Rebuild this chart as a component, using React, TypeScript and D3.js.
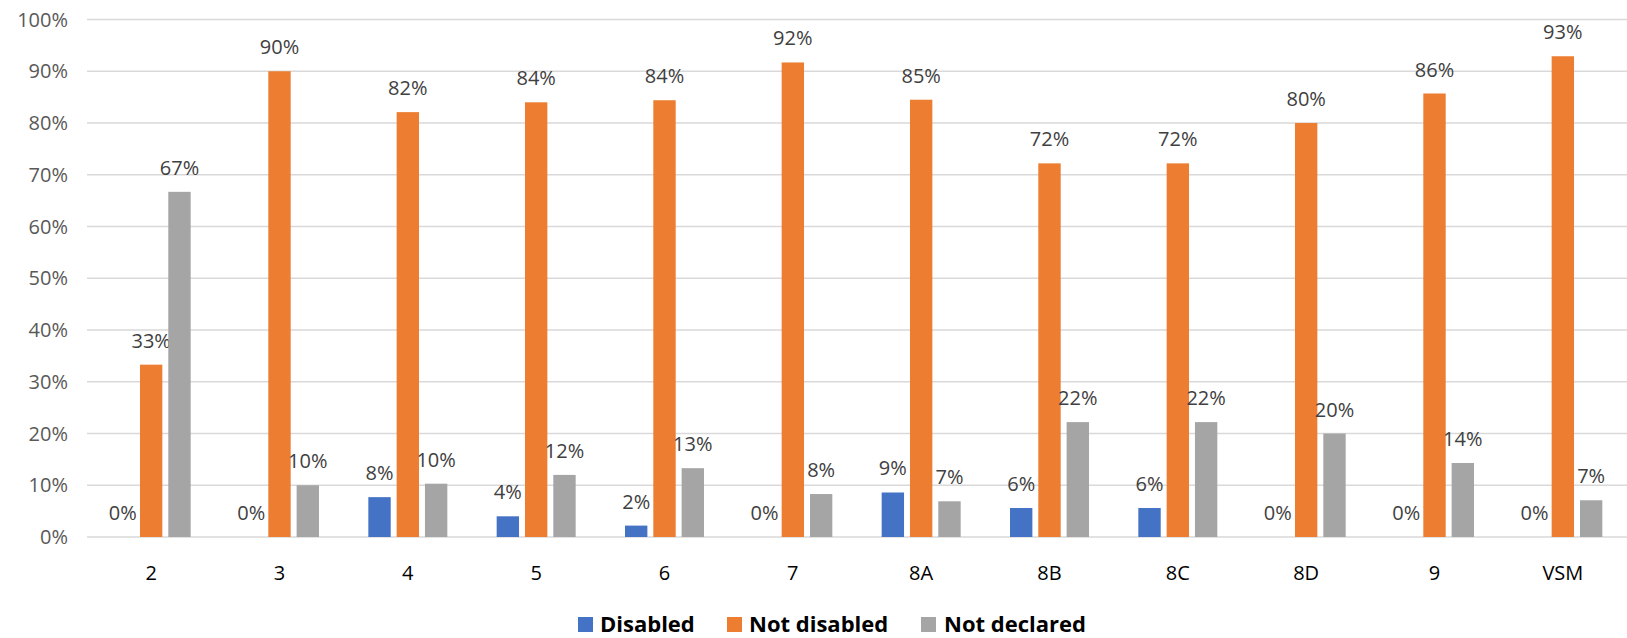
import React from "react";
import * as d3 from "d3";

const categories = ["2", "3", "4", "5", "6", "7", "8A", "8B", "8C", "8D", "9", "VSM"];
const seriesNames = ["Disabled", "Not disabled", "Not declared"];
const disabled = [0, 0, 7.7, 4.0, 2.2, 0, 8.6, 5.6, 5.6, 0, 0, 0];
const notDisabled = [33.3, 90.0, 82.1, 84.0, 84.4, 91.7, 84.5, 72.2, 72.2, 80.0, 85.7, 92.9];
const notDeclared = [66.7, 10.0, 10.3, 12.0, 13.3, 8.3, 6.9, 22.2, 22.2, 20.0, 14.3, 7.1];
const yTicks = [0, 10, 20, 30, 40, 50, 60, 70, 80, 90, 100];
const colors = ["#4472C4", "#ED7D31", "#A5A5A5"];

const W = 1627;
const H = 638;
const FONT = "'Open Sans', 'Noto Sans', sans-serif";

export default function App() {
  const series = [disabled, notDisabled, notDeclared];
  const x = d3.scaleBand<string>().domain(categories).range([87, 1627]).padding(0);
  const y = d3.scaleLinear().domain([0, 100]).range([537, 19.5]);
  const inner = d3.scaleBand<number>().domain([0, 1, 2]).range([-39.5, 39.5]).paddingInner(0.21);
  const bw = inner.bandwidth();

  return (
    <svg width={W} height={H} style={{ position: "absolute", left: 0, top: 0 }} fontFamily={FONT}>
      <rect width={W} height={H} fill="#fff" />
      {yTicks.map((t) => (
        <g key={t}>
          <line x1={87} x2={1627} y1={y(t)} y2={y(t)} stroke="#d9d9d9" strokeWidth={1.5} />
          <text x={68} y={y(t) + 7} textAnchor="end" fontSize={20} fill="#595959">
            {t}%
          </text>
        </g>
      ))}
      {categories.map((c, ci) => {
        const cx = (x(c) as number) + x.bandwidth() / 2;
        return (
          <g key={c}>
            {series.map((s, si) => {
              const bx = cx + (inner(si) as number);
              const v = s[ci];
              return (
                <g key={si}>
                  {v > 0 && (
                    <rect x={bx} y={y(v)} width={bw} height={y(0) - y(v)} fill={colors[si]} />
                  )}
                  <text
                    x={bx + bw / 2}
                    y={y(v) - 17}
                    textAnchor="middle"
                    fontSize={20}
                    fill="#404040"
                  >
                    {Math.round(v)}%
                  </text>
                </g>
              );
            })}
            <text x={cx} y={580} textAnchor="middle" fontSize={20} fill="#000">
              {c}
            </text>
          </g>
        );
      })}
      {(() => {
        const items = [
          { sx: 578, tx: 600 },
          { sx: 727, tx: 749 },
          { sx: 921, tx: 944 },
        ];
        return items.map((it, i) => (
          <g key={i}>
            <rect x={it.sx} y={617} width={15} height={15} fill={colors[i]} />
            <text x={it.tx} y={632} fontSize={22} fontWeight="bold" fill="#000">
              {seriesNames[i]}
            </text>
          </g>
        ));
      })()}
    </svg>
  );
}
